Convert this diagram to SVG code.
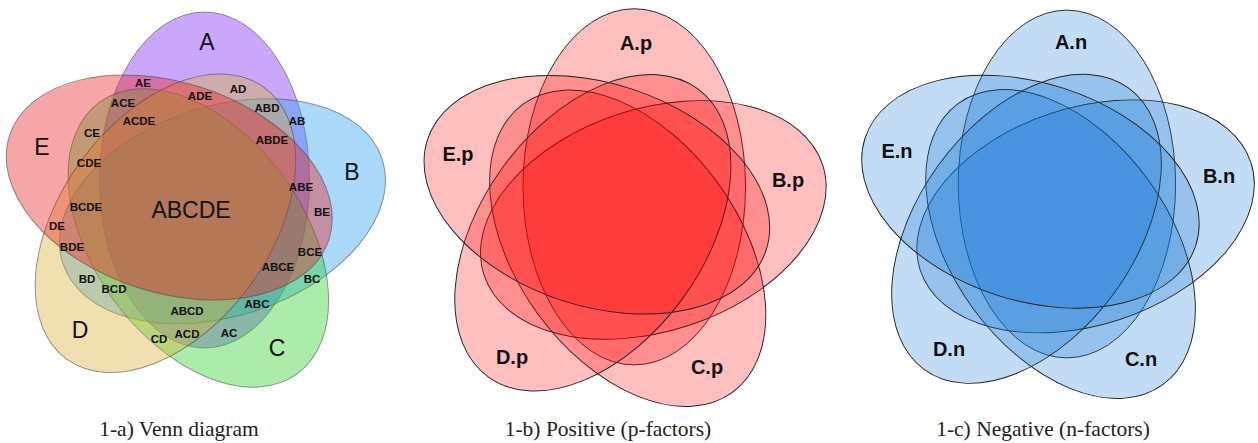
<svg xmlns="http://www.w3.org/2000/svg" width="1258" height="443" viewBox="0 0 1258 443">
<style>
.e1{fill-opacity:.4;stroke:#444;stroke-opacity:.55;stroke-width:1}
.ep{fill:#ff0000;fill-opacity:.25;stroke:#222;stroke-width:.9}
.en{fill:#0f73d7;fill-opacity:.25;stroke:#222;stroke-width:.9}
.s{font-family:"Liberation Sans",Arial,sans-serif;font-weight:bold;font-size:11.5px;text-anchor:middle;fill:#111}
.b{font-family:"Liberation Sans",Arial,sans-serif;font-size:23px;text-anchor:middle;fill:#111}
.lb{font-family:"Liberation Sans",Arial,sans-serif;font-weight:bold;font-size:20px;text-anchor:middle;fill:#111}
.cap{font-family:"Liberation Serif","Times New Roman",serif;font-size:21.5px;text-anchor:middle;fill:#222}
</style>
<defs>
<ellipse id="el" cx="12.5" cy="-28" rx="105" ry="168"/>
</defs>
<rect width="1258" height="443" fill="#fff"/>

<!-- Diagram 1-a -->
<g id="venn-a" transform="translate(192,208)">
  <g id="set-A"><use href="#el" class="e1" fill="#7a22f2"/></g>
  <g id="set-B"><use href="#el" class="e1" fill="#2a9ff2" transform="rotate(72)"/></g>
  <g id="set-C"><use href="#el" class="e1" fill="#2ccf2c" transform="rotate(144)"/></g>
  <g id="set-D"><use href="#el" class="e1" fill="#d9b139" transform="rotate(216)"/></g>
  <g id="set-E"><use href="#el" class="e1" fill="#e82020" transform="rotate(288)"/></g>
</g>
<g id="labels-a">
  <text class="b" x="207" y="50">A</text>
  <text class="b" x="352" y="180">B</text>
  <text class="b" x="277" y="356">C</text>
  <text class="b" x="80" y="338">D</text>
  <text class="b" x="42" y="155">E</text>
  <text class="b" x="191" y="218">ABCDE</text>
  <text class="s" x="143" y="87">AE</text>
  <text class="s" x="200" y="100">ADE</text>
  <text class="s" x="238" y="93">AD</text>
  <text class="s" x="123" y="107">ACE</text>
  <text class="s" x="267" y="112">ABD</text>
  <text class="s" x="139" y="125">ACDE</text>
  <text class="s" x="297" y="125">AB</text>
  <text class="s" x="92" y="137">CE</text>
  <text class="s" x="272" y="144">ABDE</text>
  <text class="s" x="89" y="167">CDE</text>
  <text class="s" x="301" y="191">ABE</text>
  <text class="s" x="86" y="211">BCDE</text>
  <text class="s" x="322" y="216">BE</text>
  <text class="s" x="57" y="230">DE</text>
  <text class="s" x="72" y="251">BDE</text>
  <text class="s" x="310" y="256">BCE</text>
  <text class="s" x="278" y="271">ABCE</text>
  <text class="s" x="87" y="283">BD</text>
  <text class="s" x="312" y="283">BC</text>
  <text class="s" x="114" y="293">BCD</text>
  <text class="s" x="257" y="308">ABC</text>
  <text class="s" x="187" y="315">ABCD</text>
  <text class="s" x="187" y="338">ACD</text>
  <text class="s" x="229" y="337">AC</text>
  <text class="s" x="159" y="343">CD</text>
</g>
<text class="cap" x="179" y="436">1-a) Venn diagram</text>

<!-- Diagram 1-b -->
<g id="venn-b" transform="translate(621,216.5) scale(1.06)">
  <g id="set-Ap"><use href="#el" class="ep"/></g>
  <g id="set-Bp"><use href="#el" class="ep" transform="rotate(72)"/></g>
  <g id="set-Cp"><use href="#el" class="ep" transform="rotate(144)"/></g>
  <g id="set-Dp"><use href="#el" class="ep" transform="rotate(216)"/></g>
  <g id="set-Ep"><use href="#el" class="ep" transform="rotate(288)"/></g>
</g>
<g id="labels-b">
  <text class="lb" x="636" y="50">A.p</text>
  <text class="lb" x="788" y="187">B.p</text>
  <text class="lb" x="707" y="374">C.p</text>
  <text class="lb" x="512" y="364">D.p</text>
  <text class="lb" x="458" y="161">E.p</text>
</g>
<text class="cap" x="608" y="436">1-b) Positive (p-factors)</text>

<!-- Diagram 1-c -->
<g id="venn-c" transform="translate(1054,213) scale(1.035)">
  <g id="set-An"><use href="#el" class="en"/></g>
  <g id="set-Bn"><use href="#el" class="en" transform="rotate(72)"/></g>
  <g id="set-Cn"><use href="#el" class="en" transform="rotate(144)"/></g>
  <g id="set-Dn"><use href="#el" class="en" transform="rotate(216)"/></g>
  <g id="set-En"><use href="#el" class="en" transform="rotate(288)"/></g>
</g>
<g id="labels-c">
  <text class="lb" x="1071" y="49">A.n</text>
  <text class="lb" x="1219" y="183">B.n</text>
  <text class="lb" x="1141" y="366">C.n</text>
  <text class="lb" x="949" y="356">D.n</text>
  <text class="lb" x="897" y="158">E.n</text>
</g>
<text class="cap" x="1043" y="436">1-c) Negative (n-factors)</text>
</svg>
